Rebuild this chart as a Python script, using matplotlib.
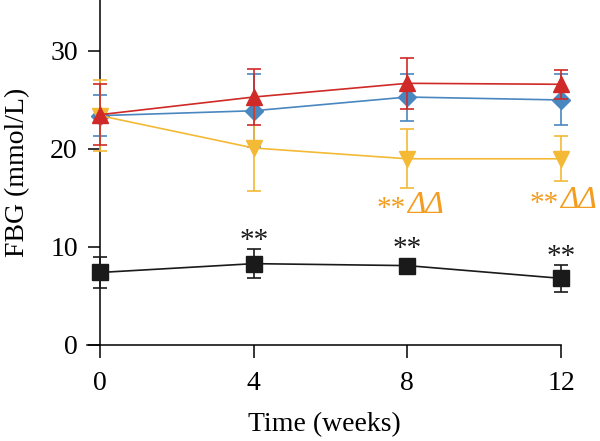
import matplotlib
matplotlib.use("Agg")
import matplotlib.pyplot as plt

weeks = [0, 4, 8, 12]
black_mean = [7.4, 8.3, 8.1, 6.8]
black_err = [1.6, 1.5, 0.7, 1.4]
blue_mean = [23.4, 23.9, 25.3, 25.0]
blue_err = [2.1, 3.7, 2.4, 2.6]
yellow_mean = [23.4, 20.1, 19.0, 19.0]
yellow_err = [3.6, 4.4, 3.0, 2.3]
red_mean = [23.5, 25.3, 26.7, 26.6]
red_err = [3.1, 2.9, 2.6, 1.5]

black_sig_weeks = [4, 8, 12]
black_sig_y = [10.6, 9.8, 9.0]
orange_sig_weeks = [8, 12]
orange_star_y = [13.9, 14.4]
orange_delta_y = [14.2, 14.7]

plt.rcParams['font.family'] = ['Liberation Serif', 'DejaVu Serif']

fig = plt.figure(figsize=(6, 4.41), dpi=100)
ax = fig.add_axes([0.145, 0.2177, 0.79, 0.7823])

series = [
    (black_mean, black_err, '#1a1a1a', 's', 11),
    (blue_mean, blue_err, '#4a86bf', 'D', 9),
    (yellow_mean, yellow_err, '#f4b935', 'v', 11),
    (red_mean, red_err, '#cf2a27', '^', 11),
]
for i, (m, e, c, mk, ms) in enumerate(series):
    ax.errorbar(weeks, m, yerr=e, color=c, marker=mk, markersize=ms,
                linewidth=1.2, elinewidth=1.2, capsize=5, capthick=1.2,
                zorder=3 + i, clip_on=False)

for w, y in zip(black_sig_weeks, black_sig_y):
    ax.text(w, y, '**', ha='center', va='center', fontsize=21, color='#1a1a1a')
orange = '#f39c1e'
for w, ys, yd in zip(orange_sig_weeks, orange_star_y, orange_delta_y):
    ax.text(w - 0.05, ys, '**', ha='right', va='center', fontsize=21, color=orange)
    ax.text(w - 0.02, yd, 'ΔΔ', ha='left', va='center', fontsize=22.5,
            fontstyle='italic', color=orange)

ax.set_xlim(-0.34, 12)
ax.set_ylim(0, 35.2)
ax.set_xticks(weeks)
ax.set_yticks([0, 10, 20, 30])
ax.spines['left'].set_position(('data', 0))
ax.spines['top'].set_visible(False)
ax.spines['right'].set_visible(False)
for s in ['left', 'bottom']:
    ax.spines[s].set_linewidth(1.1)
ax.tick_params(axis='both', length=9, width=1.1, labelsize=20, direction='out')
ax.tick_params(axis='x', pad=9.5)
ax.tick_params(axis='y', pad=7)
ax.set_xlabel('Time (weeks)', fontsize=20, labelpad=12)
ax.set_ylabel('FBG (mmol/L)', fontsize=20)
ax.yaxis.set_label_coords(-0.12, 0.5)

fig.savefig('out.png', dpi=100)
